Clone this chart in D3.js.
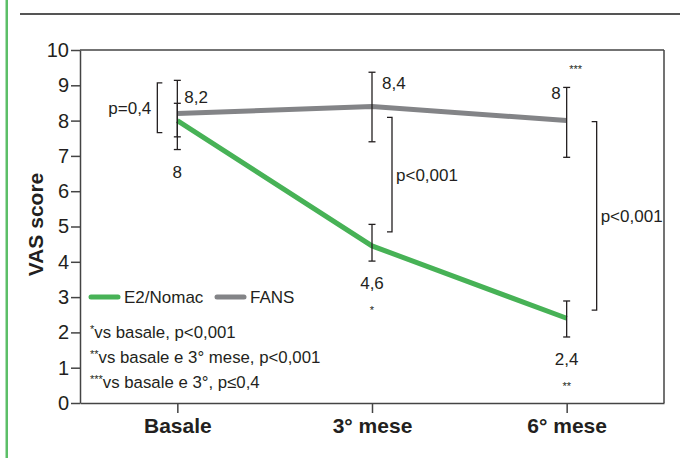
<!DOCTYPE html>
<html>
<head>
<meta charset="utf-8">
<script src="https://cdn.jsdelivr.net/npm/d3@7"></script>
<style>
  body { margin: 0; background: #fff; }
  text { font-family: "Liberation Sans", Arial, Helvetica, sans-serif; fill: #231f20; }
</style>
</head>
<body>
<svg width="680" height="458"></svg>
<script>
// data
var categories = ["Basale", "3° mese", "6° mese"];
var nomac = [8, 4.45, 2.4];
var nomacLow = [7.54, 4.02, 1.87];
var nomacHigh = [8.49, 5.06, 2.89];
var nomacLabels = ["8", "4,6", "2,4"];
var nomacStars = ["", "*", "**"];
var fans = [8.2, 8.4, 8.0];
var fansLow = [7.18, 7.4, 6.96];
var fansHigh = [9.14, 9.37, 8.94];
var fansLabels = ["8,2", "8,4", "8"];
var fansStars = ["", "", "***"];
var yTicks = [0, 1, 2, 3, 4, 5, 6, 7, 8, 9, 10];
// significance brackets
var bracketCats = ["Basale", "3° mese", "6° mese"];
var bracketTop = [9.07, 8.09, 7.97];
var bracketBottom = [7.66, 4.85, 2.63];
var bracketLabels = ["p=0,4", "p<0,001", "p<0,001"];
var footnoteStars = ["*", "**", "***"];
var footnotes = ["vs basale, p<0,001", "vs basale e 3° mese, p<0,001", "vs basale e 3°, p≤0,4"];

var green = "#47b256";
var grey = "#838487";
var ink = "#231f20";

var svg = d3.select("svg");

var margin = { top: 50, right: 16, bottom: 55, left: 80 };
var w = 680, h = 458;

// page decoration
svg.append("rect").attr("x", 5.5).attr("y", 0).attr("width", 2.5).attr("height", h).attr("fill", "#5cbf68");
svg.append("line").attr("x1", 20).attr("x2", w).attr("y1", 14).attr("y2", 14)
  .attr("stroke", "#555").attr("stroke-width", 2);

var x = d3.scalePoint().domain(categories).range([margin.left, w - margin.right]).padding(0.5);
var y = d3.scaleLinear().domain([0, 10]).range([h - margin.bottom, margin.top]);

// frame
svg.append("line").attr("x1", margin.left).attr("x2", w - margin.right)
  .attr("y1", y(10)).attr("y2", y(10)).attr("stroke", "#444").attr("stroke-width", 1.5);
svg.append("line").attr("x1", w - margin.right).attr("x2", w - margin.right)
  .attr("y1", y(10)).attr("y2", y(0)).attr("stroke", "#444").attr("stroke-width", 1.5);

// axes
var yAxis = svg.append("g")
  .attr("transform", "translate(" + margin.left + ",0)")
  .call(d3.axisLeft(y).tickValues(yTicks).tickSize(9).tickSizeOuter(0).tickPadding(2));
var xAxis = svg.append("g")
  .attr("transform", "translate(0," + y(0) + ")")
  .call(d3.axisBottom(x).tickSize(10).tickSizeOuter(0).tickPadding(5));

yAxis.selectAll("text").style("font-size", "20px").attr("fill", ink);
xAxis.selectAll("text").style("font-size", "21px").style("font-weight", "bold").attr("fill", ink);
svg.selectAll(".domain, .tick line").attr("stroke", "#444").attr("stroke-width", 1.5);

svg.append("text")
  .attr("transform", "translate(43," + (y(5) - 2) + ") rotate(-90)")
  .attr("text-anchor", "middle")
  .style("font-size", "21px").style("font-weight", "bold")
  .text("VAS score");

// lines
var line = d3.line()
  .x(function(d, i) { return x(categories[i]); })
  .y(function(d) { return y(d); });

svg.append("path").datum(fans).attr("d", line)
  .attr("fill", "none").attr("stroke", grey).attr("stroke-width", 5);
svg.append("path").datum(nomac).attr("d", line)
  .attr("fill", "none").attr("stroke", green).attr("stroke-width", 5);

// error bars
function errorBars(lo, hi) {
  var g = svg.append("g").attr("stroke", ink).attr("stroke-width", 1.3);
  categories.forEach(function(c, i) {
    var cx = x(c);
    g.append("line").attr("x1", cx).attr("x2", cx).attr("y1", y(hi[i])).attr("y2", y(lo[i]));
    g.append("line").attr("x1", cx - 3.5).attr("x2", cx + 3.5).attr("y1", y(hi[i])).attr("y2", y(hi[i]));
    g.append("line").attr("x1", cx - 3.5).attr("x2", cx + 3.5).attr("y1", y(lo[i])).attr("y2", y(lo[i]));
  });
}
errorBars(fansLow, fansHigh);
errorBars(nomacLow, nomacHigh);

// value labels
var lab = svg.append("g").style("font-size", "17px");
lab.append("text").attr("x", x(categories[0]) + 7).attr("y", y(fans[0]) - 11).text(fansLabels[0]);
lab.append("text").attr("x", x(categories[1]) + 10).attr("y", y(fansHigh[1]) + 17).text(fansLabels[1]);
lab.append("text").attr("x", x(categories[2]) - 6).attr("y", y(fansHigh[2]) + 12).attr("text-anchor", "end").text(fansLabels[2]);
lab.append("text").attr("x", x(categories[2]) + 9).attr("y", y(fansHigh[2]) - 14).attr("text-anchor", "middle")
  .style("font-size", "11px").text(fansStars[2]);

categories.forEach(function(c, i) {
  var low = i === 0 ? Math.min(nomacLow[i], fansLow[i]) : nomacLow[i];
  lab.append("text").attr("x", x(c)).attr("y", y(low) + 28)
    .attr("text-anchor", "middle").text(nomacLabels[i]);
  if (nomacStars[i]) {
    lab.append("text").attr("x", x(c)).attr("y", y(low) + 53)
      .attr("text-anchor", "middle").style("font-size", "11px").text(nomacStars[i]);
  }
});

// significance brackets
var br = svg.append("g");
bracketCats.forEach(function(c, i) {
  var left = i === 0;
  var bx = left ? x(c) - 20 : x(c) + (i === 1 ? 20 : 30);
  var tip = left ? 5 : -5;
  br.append("path")
    .attr("d", "M" + (bx + tip) + "," + y(bracketTop[i]) + "H" + bx + "V" + y(bracketBottom[i]) + "H" + (bx + tip))
    .attr("fill", "none").attr("stroke", ink).attr("stroke-width", 1.3);
  br.append("text")
    .attr("x", left ? bx - 6 : bx + 4)
    .attr("y", (y(bracketTop[i]) + y(bracketBottom[i])) / 2 + 6)
    .attr("text-anchor", left ? "end" : "start")
    .style("font-size", "17px")
    .text(bracketLabels[i]);
});

// legend
var legend = svg.append("g");
var legendItems = [["E2/Nomac", green, 91], ["FANS", grey, 217]];
legendItems.forEach(function(d) {
  legend.append("line").attr("x1", d[2]).attr("x2", d[2] + 27).attr("y1", y(3)).attr("y2", y(3))
    .attr("stroke", d[1]).attr("stroke-width", 5).attr("stroke-linecap", "round");
  legend.append("text").attr("x", d[2] + 33).attr("y", y(3) + 6)
    .style("font-size", "17px").text(d[0]);
});

// footnotes
footnotes.forEach(function(f, i) {
  var t = svg.append("text").attr("x", 90).attr("y", y(2) + 6 + i * 25).style("font-size", "16.8px");
  t.append("tspan").attr("dy", -5).style("font-size", "11px").text(footnoteStars[i]);
  t.append("tspan").attr("dy", 5).text(f);
});
</script>
</body>
</html>
